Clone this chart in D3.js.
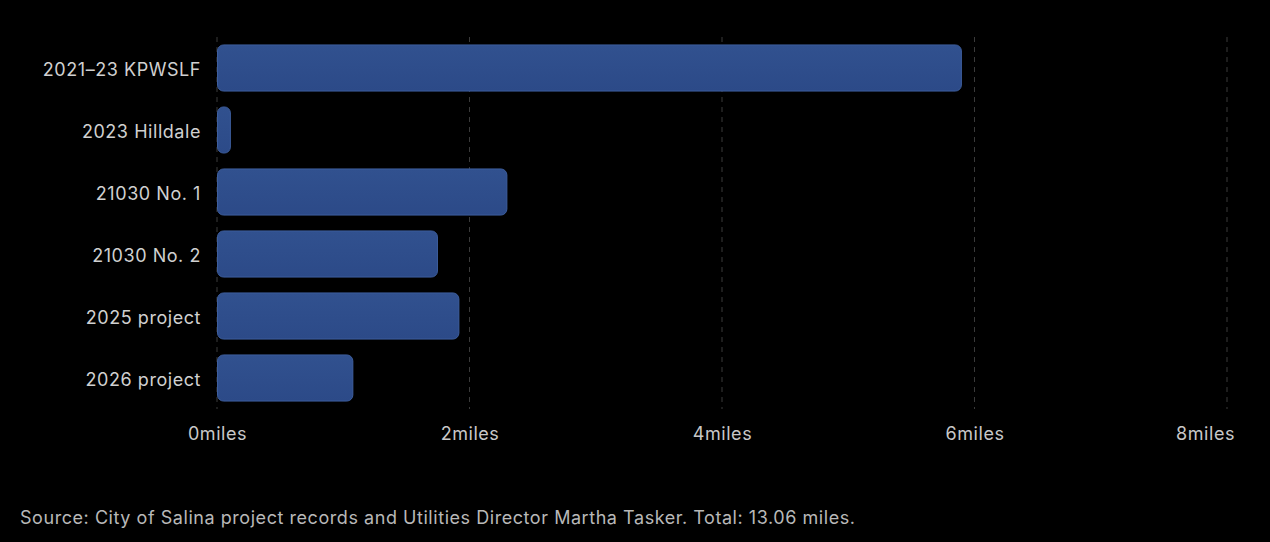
<!DOCTYPE html>
<html>
<head>
<meta charset="utf-8">
<script src="https://cdn.jsdelivr.net/npm/d3@7"></script>
<style>
  html, body { margin: 0; padding: 0; background: #000; }
  body { width: 1270px; height: 542px; overflow: hidden; font-family: Inter, "Noto Sans", sans-serif; }
</style>
</head>
<body>
<script>
// projects and miles of line replaced
var projects = ["2021\u201323 KPWSLF", "2023 Hilldale", "21030 No. 1", "21030 No. 2", "2025 project", "2026 project"];
var miles = [5.9, 0.11, 2.3, 1.75, 1.92, 1.08];
var xTicks = [0, 2, 4, 6, 8];
var sourceNote = "Source: City of Salina project records and Utilities Director Martha Tasker. Total: 13.06 miles.";

var svgWidth = 1270;
var svgHeight = 542;
var margin = { top: 37, right: 43, bottom: 133, left: 217 };
var width = svgWidth - margin.left - margin.right;
var height = svgHeight - margin.top - margin.bottom;

var svg = d3.select("body")
    .append("svg")
    .attr("width", svgWidth)
    .attr("height", svgHeight);

// bar gradient
var grad = svg.append("defs").append("linearGradient")
    .attr("id", "barFill")
    .attr("x1", 0).attr("y1", 0).attr("x2", 0).attr("y2", 1);
grad.append("stop").attr("offset", "0%").attr("stop-color", "#31518f");
grad.append("stop").attr("offset", "100%").attr("stop-color", "#2c4a88");

var chartGroup = svg.append("g")
    .attr("transform", `translate(${margin.left}, ${margin.top})`);

var xScale = d3.scaleLinear()
    .domain([0, 8])
    .range([0, width]);

var yScale = d3.scaleBand()
    .domain(projects)
    .range([0, height])
    .paddingInner(0.24)
    .paddingOuter(0.12);

// dashed gridlines
chartGroup.append("g")
    .selectAll("line")
    .data(xTicks)
    .enter()
    .append("line")
    .attr("x1", d => xScale(d))
    .attr("x2", d => xScale(d))
    .attr("y1", 0)
    .attr("y2", height)
    .attr("stroke", "#3a3a3a")
    .attr("stroke-width", 1)
    .attr("stroke-dasharray", "5,5");

var labelStyle = function(sel, color) {
    sel.attr("fill", color)
        .style("font-size", "18px")
        .style("letter-spacing", "0.55px")
        .style("font-family", "Inter, sans-serif");
};

// x axis
var bottomAxis = d3.axisBottom(xScale)
    .tickValues(xTicks)
    .tickSize(0)
    .tickPadding(18)
    .tickFormat(d => d + "miles");

var xAxis = chartGroup.append("g")
    .attr("transform", `translate(0, ${height})`)
    .call(bottomAxis);
xAxis.select(".domain").remove();
xAxis.selectAll("text").call(labelStyle, "#c8c8c8");

// keep the last tick label inside the frame
xAxis.selectAll("text").each(function() {
    var box = this.getBBox();
    var tick = d3.select(this.parentNode);
    var tx = +tick.attr("transform").match(/translate\(([-\d.]+)/)[1];
    var right = margin.left + tx + box.width / 2;
    var limit = svgWidth - 35;
    if (right > limit) d3.select(this).attr("dx", limit - right);
});

// y axis
var leftAxis = d3.axisLeft(yScale)
    .tickSize(0)
    .tickPadding(16);

var yAxis = chartGroup.append("g")
    .call(leftAxis);
yAxis.select(".domain").remove();
yAxis.selectAll("text")
    .attr("dy", "0.45em")
    .call(labelStyle, "#d0d0d0");

// bars
chartGroup.selectAll("rect.bar")
    .data(projects)
    .enter()
    .append("rect")
    .attr("class", "bar")
    .attr("x", 0.5)
    .attr("y", d => yScale(d) + 0.5)
    .attr("width", (d, i) => Math.max(xScale(miles[i]) - 1, 1))
    .attr("height", yScale.bandwidth() - 1)
    .attr("rx", (d, i) => Math.min(6, xScale(miles[i]) / 2))
    .attr("fill", "url(#barFill)")
    .attr("stroke", "#3d5e9e")
    .attr("stroke-width", 1);

// source note
svg.append("text")
    .attr("x", 20)
    .attr("y", 524)
    .call(labelStyle, "#b8b8b8")
    .text(sourceNote);
</script>
</body>
</html>
